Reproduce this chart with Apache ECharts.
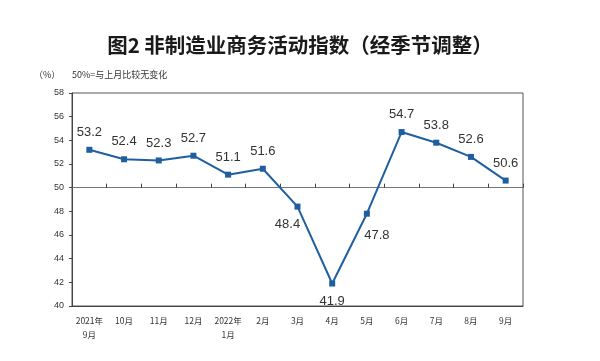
<!DOCTYPE html>
<html><head><meta charset="utf-8">
<script src="https://cdn.jsdelivr.net/npm/echarts@6/dist/echarts.min.js"></script>
<style>html,body{margin:0;padding:0;background:#fff}#c{width:600px;height:361px}</style>
</head><body><div id="c"></div>
<script>
const categories = ['2021年\n9月','10月','11月','12月','2022年\n1月','2月','3月','4月','5月','6月','7月','8月','9月'];
const values = [53.2,52.4,52.3,52.7,51.1,51.6,48.4,41.9,47.8,54.7,53.8,52.6,50.6];
const labelPos = ['top','top','top','top','top','top','bl','bottom','br','top','top','top','top'];
const yMin = 40, yMax = 58, yStep = 2, ref = 50;

const gridTop = 93, gridBottom = 55, gridLeft = 72, gridRight = 77;
const plotH = 361 - gridTop - gridBottom;
const refOffset = (ref - yMin) / (yMax - yMin) * plotH;

const data = values.map((v, i) => {
  const p = labelPos[i];
  let label = {};
  if (p === 'bl') label = {position: 'bottom', offset: [-10, 0]};
  else if (p === 'br') label = {position: 'bottom', offset: [10, 4]};
  else label = {position: p};
  return {value: v, label};
});

const chart = echarts.init(document.getElementById('c'));
chart.setOption({
  animation: false,
  title: {
    text: '图2 非制造业商务活动指数（经季节调整）',
    left: 'center', top: 30,
    textStyle: {fontFamily: 'Noto Sans CJK SC', fontSize: 20.5, fontWeight: 'bold', color: '#1a1a1a'}
  },
  graphic: [
    {type: 'text', left: 34, top: 70, style: {text: '（%）', font: '9px "Noto Sans CJK SC"', fill: '#333'}},
    {type: 'text', left: 72, top: 70, style: {text: '50%=与上月比较无变化', font: '9px "Noto Sans CJK SC"', fill: '#333'}}
  ],
  grid: [
    {left: gridLeft, right: gridRight, top: gridTop, bottom: gridBottom, show: true, borderColor: '#555', borderWidth: 1}
  ],
  xAxis: [
    {type: 'category', gridIndex: 0, data: categories, boundaryGap: true,
     axisLine: {onZero: false, lineStyle: {color: '#444'}}, axisTick: {show: false},
     axisLabel: {fontSize: 8.5, color: '#333', fontFamily: 'Noto Sans CJK SC', margin: 8, lineHeight: 14, interval: 0}},
    {type: 'category', gridIndex: 0, data: categories, boundaryGap: true, position: 'bottom', offset: -refOffset,
     axisLine: {show: true, onZero: false, lineStyle: {color: '#777'}},
     axisTick: {show: true, interval: 0, length: 4, inside: true, lineStyle: {color: '#444', width: 1}},
     axisLabel: {show: false, interval: 0}}
  ],
  yAxis: [
    {type: 'value', gridIndex: 0, min: yMin, max: yMax, interval: yStep,
     axisLine: {show: true, lineStyle: {color: '#444'}},
     axisTick: {show: true, length: 3, lineStyle: {color: '#444'}},
     splitLine: {show: false},
     axisLabel: {fontSize: 9, color: '#333', margin: 8, fontFamily: 'Liberation Sans'}}
  ],
  series: [{
    type: 'line', xAxisIndex: 0, yAxisIndex: 0, data: data,
    symbol: 'rect', symbolSize: 6,
    lineStyle: {color: '#1f5fa0', width: 2},
    itemStyle: {color: '#1f5fa0'},
    label: {show: true, fontSize: 13, color: '#333', fontFamily: 'Liberation Sans', distance: 8}
  }]
});
</script></body></html>
